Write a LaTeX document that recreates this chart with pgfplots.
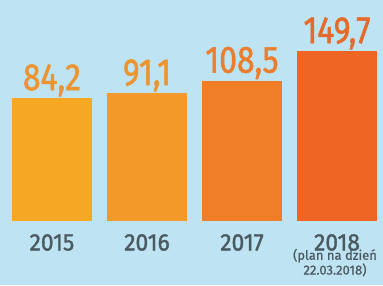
\documentclass[border=0pt]{standalone}
\usepackage{pgfplots}
\pgfplotsset{compat=1.18}
\usepackage{fontspec}
\setmainfont{Fira Sans}[FakeStretch=0.84]
\newfontfamily\med{Fira Sans}[FakeStretch=0.84, FakeBold=1.3]
\newfontfamily\yrf{Fira Sans}[FakeStretch=0.95, FakeBold=1.3]
\newfontfamily\sm{Fira Sans}[FakeBold=0.8]
\definecolor{bg}{HTML}{BEE3F3}
\definecolor{b1}{HTML}{F6A724}
\definecolor{b2}{HTML}{F3992A}
\definecolor{b3}{HTML}{F07E27}
\definecolor{b4}{HTML}{EE6524}
\definecolor{l1}{HTML}{EC942F}
\definecolor{l3}{HTML}{EA7E2E}
\definecolor{l4}{HTML}{E66A2A}
\definecolor{yr}{HTML}{4B5A60}
\begin{document}
\begin{tikzpicture}
\clip (0,0) rectangle (383pt,285pt);
\fill[bg] (0,0) rectangle (383pt,285pt);
\begin{axis}[
  at={(0pt,64pt)}, anchor=south west,
  scale only axis, width=383pt, height=221pt,
  xmin=-0.547, xmax=3.484, ymin=0, ymax=307.9,
  axis lines=none,
  ybar, bar width=80pt, bar shift=0pt,
  clip=false,
  y filter/.expression={y+87.2},
  point meta=rawy,
  nodes near coords,
  every node near coord/.append style={font=\fontsize{38}{38}\selectfont\med, yshift=-2pt},
  /pgf/number format/.cd, use comma, fixed, fixed zerofill, precision=1, assume math mode=true,
]
\addplot[fill=b1, draw=none, nodes near coords style={text=l1}] coordinates {(0,84.2)};
\addplot[fill=b2, draw=none, nodes near coords style={text=l1}] coordinates {(1,91.1)};
\addplot[fill=b3, draw=none, nodes near coords style={text=l3}] coordinates {(2,108.5)};
\addplot[fill=b4, draw=none, nodes near coords style={text=l4}] coordinates {(3,149.7)};
\node[anchor=north, inner sep=0pt, text=yr, font=\fontsize{24}{24}\selectfont\yrf] at (axis cs:0,0) [yshift=-13pt] {2015};
\node[anchor=north, inner sep=0pt, text=yr, font=\fontsize{24}{24}\selectfont\yrf] at (axis cs:1,0) [yshift=-13pt] {2016};
\node[anchor=north, inner sep=0pt, text=yr, font=\fontsize{24}{24}\selectfont\yrf] at (axis cs:2,0) [yshift=-13pt] {2017};
\node[anchor=north, inner sep=0pt, text=yr, font=\fontsize{24}{24}\selectfont\yrf] at (axis cs:3,0) [yshift=-13pt] {2018};
\node[anchor=base, align=center, text=yr, font=\fontsize{13}{10.5}\selectfont\sm, inner sep=0pt] at (axis cs:3.0,0) [yshift=-53.5pt, xshift=-2pt] {(plan na dzień\\22.03.2018)};
\end{axis}
\end{tikzpicture}
\end{document}
